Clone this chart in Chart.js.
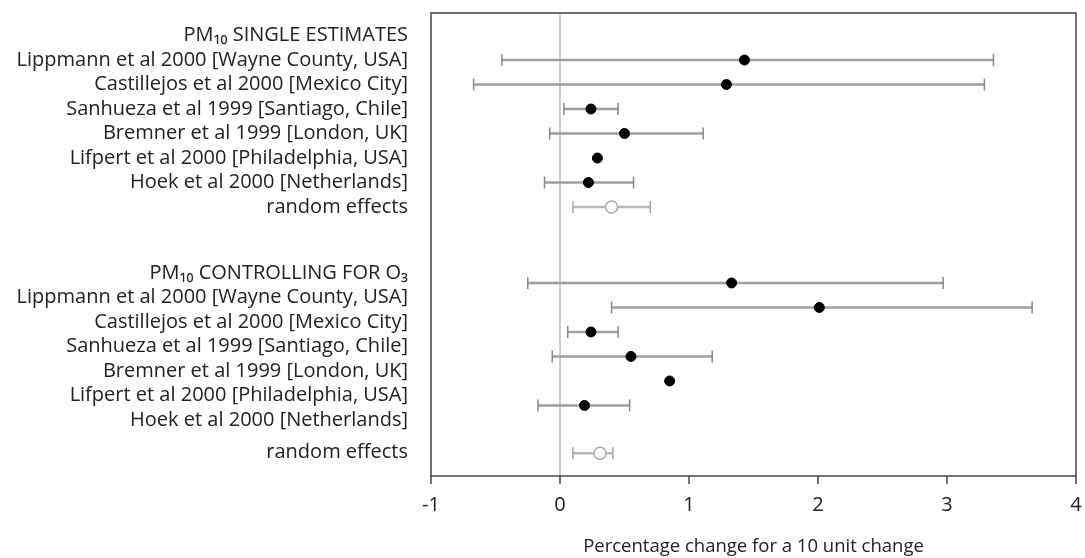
<!DOCTYPE html>
<html>
<head>
<meta charset="utf-8">
<script src="https://cdn.jsdelivr.net/npm/chart.js@4"></script>
<style>
  html, body { margin: 0; padding: 0; background: #fff; }
  #wrap { width: 1085px; height: 558px; }
</style>
</head>
<body>
<div id="wrap"><canvas id="myChart"></canvas></div>
<script>
// row labels and where they sit (in row units, top = 0)
const labelRows = [1, 2, 3, 4, 5, 6, 7, 8, 10.7, 11.7, 12.7, 13.7, 14.7, 15.7, 16.7, 18];
const labelTexts = [
    'PM\u2081\u2080 SINGLE ESTIMATES',
    'Lippmann et al 2000 [Wayne County, USA]',
    'Castillejos et al 2000 [Mexico City]',
    'Sanhueza et al 1999 [Santiago, Chile]',
    'Bremner et al 1999 [London, UK]',
    'Lifpert et al 2000 [Philadelphia, USA]',
    'Hoek et al 2000 [Netherlands]',
    'random effects',
    'PM\u2081\u2080 CONTROLLING FOR O\u2083',
    'Lippmann et al 2000 [Wayne County, USA]',
    'Castillejos et al 2000 [Mexico City]',
    'Sanhueza et al 1999 [Santiago, Chile]',
    'Bremner et al 1999 [London, UK]',
    'Lifpert et al 2000 [Philadelphia, USA]',
    'Hoek et al 2000 [Netherlands]',
    'random effects'
];

// estimates (as drawn in the figure, rows slightly offset in the 2nd block)
const estRows   = [2, 3, 4, 5, 6, 7, 8, 11.1, 12.1, 13.1, 14.1, 15.1, 16.1, 18.05];
const estimates = [1.43, 1.29, 0.24, 0.50, 0.29, 0.22, 0.40, 1.33, 2.01, 0.24, 0.55, 0.85, 0.19, 0.31];
const ciLow     = [-0.45, -0.67, 0.03, -0.08, null, -0.12, 0.10, -0.25, 0.40, 0.06, -0.06, null, -0.17, 0.10];
const ciHigh    = [3.36, 3.29, 0.45, 1.11, null, 0.57, 0.70, 2.97, 3.66, 0.45, 1.18, null, 0.54, 0.41];
const isPooled  = [false, false, false, false, false, false, true, false, false, false, false, false, false, true];

const xTicks = [-1, 0, 1, 2, 3, 4];

const FONT = "'Open Sans', 'DejaVu Sans', sans-serif";

function buildDatasets() {
    const studies = [];
    const pooled = [];
    const cis = [];

    for (let i = 0; i < estimates.length; i++) {
        const pt = { x: estimates[i], y: estRows[i] };
        if (isPooled[i]) {
            pooled.push(pt);
        } else {
            studies.push(pt);
        }
        if (ciLow[i] !== null) {
            cis.push({
                data: [{ x: ciLow[i], y: estRows[i] }, { x: ciHigh[i], y: estRows[i] }],
                showLine: true,
                borderColor: isPooled[i] ? '#b8b8b8' : '#a0a0a0',
                borderWidth: 2.5,
                pointStyle: 'line',
                rotation: 90,
                pointRadius: 6,
                pointBorderWidth: 1.5,
                pointBorderColor: isPooled[i] ? '#a5a5a5' : '#888'
            });
        }
    }

    return [
        {
            data: studies,
            pointStyle: 'circle',
            pointRadius: 5,
            pointBackgroundColor: '#000',
            pointBorderColor: '#000',
            showLine: false
        },
        {
            data: pooled,
            pointStyle: 'circle',
            pointRadius: 6,
            pointBackgroundColor: '#fff',
            pointBorderColor: '#aaa',
            pointBorderWidth: 1.5,
            showLine: false
        }
    ].concat(cis);
}

const framePlugin = {
    id: 'frame',
    afterDraw(chart) {
        const a = chart.chartArea;
        const c = chart.ctx;
        c.save();
        c.strokeStyle = '#444';
        c.lineWidth = 1.5;
        c.strokeRect(a.left, a.top, a.right - a.left, a.bottom - a.top);
        c.restore();
    }
};

const ctx = document.getElementById('myChart');

const forestChart = new Chart(ctx, {
    type: 'scatter',
    data: { datasets: buildDatasets() },
    options: {
        responsive: true,
        maintainAspectRatio: false,
        animation: false,
        layout: { padding: { left: 0, right: 9, top: 13, bottom: 0 } },
        plugins: {
            legend: { display: false },
            tooltip: { enabled: false }
        },
        scales: {
            x: {
                type: 'linear',
                min: -1,
                max: 4,
                afterBuildTicks: (scale) => { scale.ticks = xTicks.map(v => ({ value: v })); },
                afterFit: (scale) => {
                    scale.height = 82;
                    scale.paddingLeft = 0;
                    scale.paddingRight = 0;
                },
                border: { display: false },
                grid: {
                    color: (c) => c.tick && c.tick.value === 0 ? '#d0d0d0' : 'rgba(0,0,0,0)',
                    lineWidth: 2,
                    drawTicks: true,
                    tickLength: 8,
                    tickColor: '#444',
                    tickWidth: 1.5
                },
                ticks: {
                    color: '#222',
                    padding: 9,
                    font: { family: FONT, size: 20 }
                },
                title: {
                    display: true,
                    text: 'Percentage change for a 10 unit change',
                    color: '#222',
                    padding: { top: 0, bottom: 0 },
                    font: { family: FONT, size: 18.5 }
                }
            },
            y: {
                type: 'linear',
                reverse: true,
                min: 0.08,
                max: 18.98,
                afterBuildTicks: (scale) => { scale.ticks = labelRows.map(v => ({ value: v })); },
                afterFit: (scale) => {
                    scale.width = 431;
                    scale.paddingTop = 0;
                    scale.paddingBottom = 0;
                },
                border: { display: false },
                grid: { display: false, drawTicks: false },
                ticks: {
                    autoSkip: false,
                    padding: 23,
                    color: '#222',
                    font: { family: FONT, size: 20 },
                    callback: (value, index) => labelTexts[index]
                }
            }
        }
    },
    plugins: [framePlugin]
});
</script>
</body>
</html>
